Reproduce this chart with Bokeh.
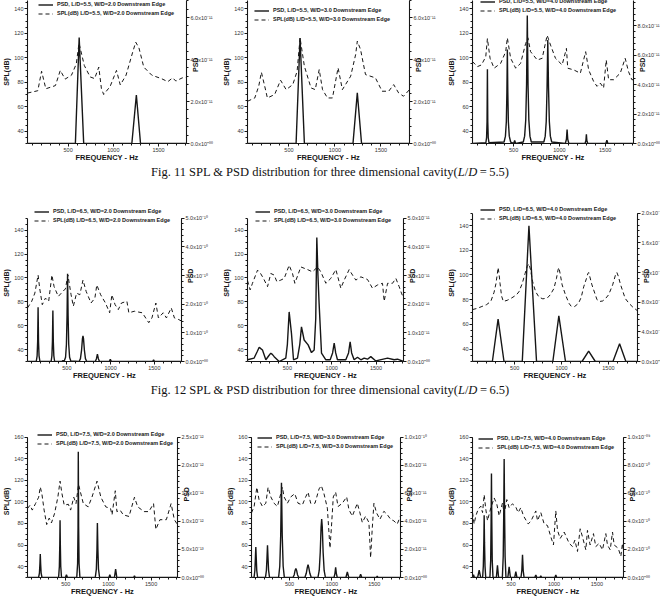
import numpy as np
from bokeh.plotting import figure
from bokeh.models import (Range1d, LinearAxis, FixedTicker, SingleIntervalTicker,
                          Legend, LegendItem, Div)
from bokeh.layouts import row, column
from bokeh.embed import file_html
from bokeh.resources import INLINE

# ------------------------------------------------------------------
# Data: SPL (dB) and PSD spectra at the downstream edge of the cavity
# PSD values are stored in the unit given in each name (e.g. _e11 -> x1e-11)
# ------------------------------------------------------------------
freq_range = (50, 1810)
x_tick_step = 500

# ---- Fig. 11, L/D = 5.5 ----
spl_55_20_f = [50, 164, 206, 253, 359, 413, 466, 537, 590, 620, 679, 743, 793, 839, 868, 893, 964, 1035,
               1077, 1141, 1212, 1248, 1284, 1337, 1426, 1532, 1603, 1657, 1692, 1763, 1810]
spl_55_20 = [71.2, 73.1, 89.0, 74.7, 77.3, 89.7, 82.6, 85.8, 95.0, 112.0, 93.7, 84.4, 83.0, 92.4, 75.0, 70.0,
             76.5, 89.7, 77.8, 85.8, 104.0, 112.8, 108.0, 92.4, 85.8, 83.0, 80.5, 83.6, 81.0, 83.6, 84.0]
psd_55_20_f = [50, 580, 622, 672, 1205, 1255, 1301, 1810]
psd_55_20_e11 = [0, 0, 5.05, 0, 0, 2.31, 0, 0]

spl_55_30_f = [50, 129, 172, 201, 237, 266, 345, 409, 470, 542, 589, 621, 668, 740, 786, 829, 865, 919, 973,
               1034, 1081, 1171, 1225, 1243, 1278, 1332, 1440, 1512, 1584, 1638, 1692, 1745, 1810]
spl_55_30 = [64.5, 67.2, 76.8, 88.2, 76.8, 67.2, 70.0, 81.7, 74.0, 78.1, 89.0, 116.3, 93.1, 75.4, 74.0, 90.4,
             74.0, 67.2, 67.2, 91.8, 74.0, 85.0, 102.7, 113.6, 106.8, 86.3, 83.6, 72.7, 72.7, 78.1, 71.3, 68.6, 74.0]
psd_55_30_f = [50, 578, 621, 668, 1196, 1243, 1289, 1810]
psd_55_30_e11 = [0, 0, 5.03, 0, 0, 2.41, 0, 0]

spl_55_40_f = [50, 104, 148, 195, 213, 242, 286, 358, 413, 431, 467, 522, 576, 631, 656, 685, 758, 812, 866,
               903, 957, 1030, 1077, 1091, 1157, 1229, 1287, 1320, 1374, 1411, 1447, 1483, 1512, 1538, 1592,
               1665, 1719, 1755, 1792, 1810]
spl_55_40 = [96.9, 92.8, 94.2, 100.9, 115.7, 99.6, 91.5, 95.5, 105.0, 116.3, 99.6, 91.5, 95.5, 111.7, 116.3,
             105.0, 98.2, 99.6, 118.4, 110.4, 99.6, 94.2, 107.7, 91.5, 90.1, 87.4, 105.0, 90.1, 80.7, 76.7,
             79.4, 75.3, 98.2, 82.1, 82.1, 87.4, 99.6, 88.8, 82.1, 82.1]
psd_55_40_f = [50, 196, 204, 209, 213, 217, 222, 230, 395, 410, 420, 426, 431, 436, 442, 452, 467, 500, 511,
               522, 605, 620, 632, 641, 649, 657, 666, 678, 693, 830, 845, 856, 865, 873, 881, 890, 901, 916,
               1065, 1077, 1084, 1091, 1103, 1280, 1290, 1295, 1300, 1310, 1508, 1519, 1530, 1810]
psd_55_40_e11 = [0, 0.05, 0.4, 1.5, 5.06, 1.5, 0.4, 0.05, 0.1, 0.5, 1.5, 3.5, 6.39, 3.5, 1.5, 0.5, 0.1, 0,
                 0.2, 0, 0.1, 0.5, 1.6, 4.0, 8.71, 4.0, 1.6, 0.5, 0.1, 0.1, 0.5, 1.5, 3.8, 7.05, 3.8, 1.5,
                 0.5, 0.1, 0, 0.3, 0.95, 0.3, 0, 0, 0.2, 0.62, 0.2, 0, 0, 0.22, 0, 0]

# ---- Fig. 12, L/D = 6.5 ----
spl_65_20_f = [50, 98, 134, 171, 189, 219, 255, 292, 329, 354, 402, 453, 483, 512, 548, 574, 611, 648, 684,
               721, 776, 820, 842, 886, 941, 989, 1014, 1051, 1088, 1124, 1186, 1208, 1271, 1362, 1436, 1472,
               1517, 1546, 1601, 1638, 1693, 1729, 1773, 1810]
spl_65_20 = [74.9, 80.4, 87.3, 102.4, 91.4, 77.6, 83.1, 80.4, 102.4, 92.7, 84.5, 88.6, 90.8, 102.4, 85.9,
             76.3, 87.3, 85.9, 98.2, 88.6, 79.0, 83.1, 94.1, 85.9, 79.0, 70.8, 85.9, 77.6, 73.5, 79.0, 80.4,
             70.8, 72.1, 70.8, 62.5, 66.5, 79.0, 66.5, 70.8, 66.5, 74.9, 66.5, 65.3, 63.9]
psd_65_20_f = [50, 150, 160, 166, 171, 176, 182, 192, 320, 329, 335, 340, 345, 351, 360, 445, 455, 465, 470,
               485, 495, 502, 508, 514, 521, 531, 545, 640, 655, 668, 678, 684, 690, 700, 712, 727, 825, 838,
               849, 860, 873, 985, 996, 1010, 1480, 1491, 1502, 1810]
psd_65_20_e10 = [0, 0, 0.2, 0.7, 1.89, 0.7, 0.2, 0, 0, 0.2, 0.7, 1.78, 0.7, 0.2, 0, 0, 0.04, 0, 0.02, 0.15,
                 0.6, 1.6, 3.06, 1.6, 0.6, 0.15, 0.02, 0, 0.1, 0.4, 0.8, 0.89, 0.8, 0.4, 0.1, 0, 0, 0.1, 0.26,
                 0.1, 0, 0, 0.08, 0, 0, 0.06, 0, 0]

spl_65_30_f = [50, 80, 106, 163, 193, 230, 276, 313, 351, 381, 426, 464, 520, 558, 584, 652, 727, 783, 840,
               877, 934, 990, 1047, 1103, 1141, 1197, 1235, 1272, 1329, 1404, 1460, 1517, 1573, 1592, 1630,
               1686, 1724, 1761, 1787, 1810]
spl_65_30 = [97.7, 90.0, 95.5, 106.5, 104.3, 99.6, 92.7, 103.7, 102.4, 96.9, 98.2, 99.6, 110.6, 103.7, 95.5,
             109.2, 107.0, 105.1, 109.2, 105.1, 95.5, 99.6, 107.0, 91.4, 98.2, 107.0, 102.4, 98.2, 100.9,
             98.7, 91.4, 94.1, 95.5, 80.4, 95.5, 95.5, 99.6, 92.7, 87.3, 83.1]
psd_65_30_f = [50, 125, 160, 182, 200, 219, 257, 290, 313, 330, 351, 407, 482, 500, 520, 546, 569, 614, 640,
               659, 689, 734, 772, 802, 820, 832, 845, 858, 885, 934, 983, 1010, 1028, 1045, 1065, 1159, 1190,
               1208, 1225, 1253, 1291, 1329, 1366, 1404, 1441, 1498, 1630, 1705, 1742, 1810]
psd_65_30_e11 = [0.06, 0.12, 0.35, 0.50, 0.45, 0.40, 0.06, 0.2, 0.29, 0.25, 0.17, 0, 0.12, 0.6, 1.73, 0.98,
                 0.06, 0.12, 0.6, 1.21, 0.75, 0.58, 0.31, 0.40, 1.5, 4.33, 3.0, 2.02, 0.29, 0.06, 0.06, 0.3,
                 0.64, 0.3, 0.06, 0.06, 0.3, 0.69, 0.3, 0.06, 0.15, 0.06, 0.12, 0.08, 0.17, 0.02, 0.12, 0.06,
                 0.08, 0]

spl_65_40_f = [50, 100, 150, 200, 245, 280, 300, 315, 323, 333, 344, 360, 379, 420, 470, 520, 546, 580, 610,
               634, 652, 670, 690, 723, 760, 800, 847, 880, 918, 945, 962, 971, 985, 1006, 1042, 1080, 1102,
               1140, 1180, 1210, 1236, 1265, 1280, 1289, 1300, 1324, 1378, 1410, 1440, 1470, 1502, 1545,
               1575, 1590, 1605, 1630, 1679, 1720, 1760, 1810]
spl_65_40 = [72, 73, 74.5, 76, 78.6, 86, 93, 101, 106, 101, 93, 83, 78.6, 79.5, 81.5, 84, 86.5, 93, 101, 107,
             109, 104, 95, 86.5, 82, 80.7, 81.3, 84, 89, 97, 104, 106, 101, 92, 83.9, 77, 74.7, 74.5, 77, 82,
             90.4, 97, 101, 102, 99, 92, 80, 78.6, 79, 81, 84, 92, 100, 102, 99, 92, 81, 77, 74, 71]
psd_65_40_f = [50, 262, 323, 386, 581, 652, 733, 907, 971, 1042, 1218, 1289, 1360, 1548, 1619, 1686, 1810]
psd_65_40_e10 = [0, 0, 0.571, 0, 0, 1.83, 0, 0, 0.615, 0, 0, 0.139, 0, 0, 0.238, 0, 0]

# ---- Fig. 13, L/D = 7.5 ----
spl_75_20_f = [50, 80, 106, 144, 181, 200, 219, 245, 275, 305, 331, 368, 406, 432, 455, 481, 529, 556, 593,
               619, 649, 672, 705, 762, 806, 866, 911, 968, 1024, 1042, 1080, 1099, 1136, 1174, 1241, 1305,
               1343, 1418, 1474, 1529, 1556, 1604, 1679, 1735, 1773, 1810]
spl_75_20 = [93.9, 96.9, 92.4, 98.4, 104.3, 113.8, 107.3, 92.4, 79.0, 85.0, 80.5, 89.4, 104.3, 119.2, 107.3,
             96.9, 97.8, 92.4, 104.3, 98.4, 116.2, 108.8, 98.4, 95.4, 104.3, 119.2, 104.3, 95.4, 93.9, 88.0,
             110.3, 91.0, 92.4, 88.0, 86.5, 104.3, 95.4, 91.0, 91.0, 98.4, 74.5, 83.5, 83.5, 98.4, 83.5, 79.0]
psd_75_20_f = [50, 180, 190, 196, 200, 204, 210, 220, 415, 424, 429, 432, 435, 440, 449, 495, 507, 519, 628,
               638, 643, 646, 650, 655, 665, 845, 858, 865, 870, 876, 883, 896, 1005, 1016, 1027, 1070, 1084,
               1098, 1295, 1305, 1315, 1810]
psd_75_20_e12 = [0, 0, 0.08, 0.25, 0.42, 0.25, 0.08, 0, 0, 0.2, 0.6, 1.02, 0.6, 0.2, 0, 0, 0.05, 0, 0, 0.25,
                 0.9, 2.24, 0.9, 0.25, 0, 0, 0.15, 0.5, 0.97, 0.5, 0.15, 0, 0, 0.05, 0, 0, 0.15, 0, 0, 0.03,
                 0, 0]

spl_75_30_f = [50, 81, 113, 140, 180, 219, 246, 278, 317, 356, 396, 415, 435, 474, 514, 561, 600, 651, 690,
               718, 749, 800, 848, 875, 906, 946, 977, 993, 1016, 1044, 1072, 1123, 1174, 1201, 1241, 1300,
               1331, 1359, 1398, 1437, 1457, 1476, 1496, 1527, 1567, 1614, 1653, 1693, 1732, 1771, 1810]
spl_75_30 = [89.8, 95.7, 113.5, 101.6, 95.7, 98.7, 113.5, 104.6, 98.7, 95.7, 107.6, 113.5, 104.6, 98.7,
             104.6, 107.6, 98.7, 97.2, 104.6, 109.0, 98.7, 98.7, 112.0, 115.0, 107.6, 94.2, 57.2, 75.0,
             104.6, 109.0, 95.7, 98.7, 104.6, 92.8, 86.8, 98.7, 89.8, 80.9, 86.8, 80.9, 48.3, 75.0, 98.7,
             89.8, 83.9, 91.3, 88.3, 83.9, 82.4, 79.4, 86.9]
psd_75_30_f = [50, 80, 90, 96, 101, 106, 112, 122, 215, 226, 233, 239, 245, 252, 263, 370, 384, 395, 404,
               413, 424, 438, 540, 555, 565, 574, 583, 593, 608, 680, 697, 709, 718, 727, 739, 756, 835, 850,
               862, 872, 879, 886, 896, 908, 923, 1025, 1036, 1044, 1052, 1063, 1165, 1182, 1199, 1325, 1339,
               1353, 1525, 1535, 1545, 1810]
psd_75_30_e10 = [0, 0, 0.05, 0.14, 0.217, 0.14, 0.05, 0, 0, 0.05, 0.14, 0.229, 0.14, 0.05, 0, 0, 0.08, 0.3,
                 0.675, 0.3, 0.08, 0, 0, 0.02, 0.05, 0.064, 0.05, 0.02, 0, 0, 0.03, 0.07, 0.092, 0.07, 0.03,
                 0, 0, 0.05, 0.18, 0.36, 0.416, 0.36, 0.18, 0.05, 0, 0, 0.03, 0.073, 0.03, 0, 0, 0.039, 0,
                 0, 0.023, 0, 0, 0.01, 0, 0]

spl_75_40_f = [50, 69, 89, 116, 147, 167, 186, 205, 225, 264, 303, 334, 361, 400, 419, 450, 477, 516, 555,
               582, 613, 644, 699, 730, 788, 808, 846, 885, 924, 963, 994, 1021, 1041, 1072, 1118, 1177, 1216,
               1243, 1274, 1305, 1332, 1371, 1390, 1421, 1460, 1487, 1526, 1565, 1604, 1623, 1655, 1682,
               1701, 1748, 1779, 1798, 1810]
spl_75_40 = [90.1, 79.6, 87.1, 93.1, 96.1, 90.1, 106.6, 93.1, 82.6, 94.6, 103.6, 97.6, 87.1, 99.1, 88.6,
             102.1, 94.6, 98.2, 95.2, 90.1, 94.6, 87.1, 79.6, 82.0, 91.6, 82.6, 90.1, 79.6, 78.1, 67.6, 60.1,
             91.6, 73.6, 66.1, 72.1, 61.6, 58.6, 64.6, 54.1, 75.1, 67.6, 55.6, 73.6, 60.1, 70.6, 58.6, 61.6,
             55.6, 70.6, 60.1, 55.6, 72.1, 60.1, 57.1, 49.6, 61.6, 54.1]
psd_75_40_f = [50, 62, 72, 110, 128, 145, 168, 176, 182, 186, 190, 196, 204, 253, 262, 267, 271, 275, 280,
               289, 328, 341, 354, 398, 408, 414, 419, 424, 430, 440, 462, 477, 492, 542, 555, 568, 615, 625,
               633, 641, 651, 775, 788, 801, 835, 846, 857, 1010, 1021, 1032, 1810]
psd_75_40_e9 = [0, 0.02, 0, 0, 0.053, 0, 0, 0.08, 0.25, 0.443, 0.25, 0.08, 0, 0, 0.12, 0.4, 0.741, 0.4,
                0.12, 0, 0, 0.087, 0, 0, 0.15, 0.45, 0.844, 0.45, 0.15, 0, 0, 0.076, 0, 0, 0.041, 0, 0, 0.05,
                0.161, 0.05, 0, 0, 0.018, 0, 0, 0.011, 0, 0, 0.018, 0, 0]

captions = [
    'Fig. 11 SPL &amp; PSD distribution for three dimensional cavity(<i>L</i>/<i>D</i>&#8201;=&#8201;5.5)',
    'Fig. 12 SPL &amp; PSD distribution for three dimensional cavity(<i>L</i>/<i>D</i>&#8201;=&#8201;6.5)',
]

Z = "0.0x10\u207a\u2070\u2070"
panels = [
    dict(ld="5.5", wd="2.0", sf=spl_55_20_f, s=spl_55_20, pf=psd_55_20_f, pv=psd_55_20_e11,
         spl_top=150, psd_top=7.0, ticks=[0, 2, 4, 6],
         labels=[Z, "2.0x10\u207b\u00b9\u00b9", "4.0x10\u207b\u00b9\u00b9", "6.0x10\u207b\u00b9\u00b9"],
         geom=(220, 164, 21, 34, -4, 18), leg=(11, -11)),
    dict(ld="5.5", wd="3.0", sf=spl_55_30_f, s=spl_55_30, pf=psd_55_30_f, pv=psd_55_30_e11,
         spl_top=150, psd_top=7.0, ticks=[0, 2, 4, 6],
         labels=[Z, "2.0x10\u207b\u00b9\u00b9", "4.0x10\u207b\u00b9\u00b9", "6.0x10\u207b\u00b9\u00b9"],
         geom=(220, 164, 26, 31, -4, 18), leg=(7, -17)),
    dict(ld="5.5", wd="4.0", sf=spl_55_40_f, s=spl_55_40, pf=psd_55_40_f, pv=psd_55_40_e11,
         spl_top=150, psd_top=10.0, ticks=[0, 2, 4, 6, 8],
         labels=[Z, "2.0x10\u207b\u00b9\u00b9", "4.0x10\u207b\u00b9\u00b9", "6.0x10\u207b\u00b9\u00b9",
                 "8.0x10\u207b\u00b9\u00b9"],
         geom=(232, 164, 32, 39, -4, 18), leg=(8, -8)),
    dict(ld="6.5", wd="2.0", sf=spl_65_20_f, s=spl_65_20, pf=psd_65_20_f, pv=psd_65_20_e10,
         spl_top=150, psd_top=5.0, ticks=[0, 1, 2, 3, 4, 5],
         labels=[Z, "1.0x10\u207b\u00b9\u2070", "2.0x10\u207b\u00b9\u2070", "3.0x10\u207b\u00b9\u2070",
                 "4.0x10\u207b\u00b9\u2070", "5.0x10\u207b\u00b9\u2070"],
         geom=(220, 178, 21, 39, 14, 18), leg=(7, 4)),
    dict(ld="6.5", wd="3.0", sf=spl_65_30_f, s=spl_65_30, pf=psd_65_30_f, pv=psd_65_30_e11,
         spl_top=150, psd_top=5.0, ticks=[0, 1, 2, 3, 4, 5],
         labels=[Z, "1.0x10\u207b\u00b9\u00b9", "2.0x10\u207b\u00b9\u00b9", "3.0x10\u207b\u00b9\u00b9",
                 "4.0x10\u207b\u00b9\u00b9", "5.0x10\u207b\u00b9\u00b9"],
         geom=(220, 178, 27, 37, 14, 18), leg=(8, 4)),
    dict(ld="6.5", wd="4.0", sf=spl_65_40_f, s=spl_65_40, pf=psd_65_40_f, pv=psd_65_40_e10,
         spl_top=150, psd_top=2.0, ticks=[0, 0.4, 0.8, 1.2, 1.6, 2.0],
         labels=[Z, "4.0x10\u207b\u00b9\u00b9", "8.0x10\u207b\u00b9\u00b9", "1.2x10\u207b\u00b9\u2070",
                 "1.6x10\u207b\u00b9\u2070", "2.0x10\u207b\u00b9\u2070"],
         geom=(232, 178, 32, 35, 9, 15), leg=(8, -2)),
    dict(ld="7.5", wd="2.0", sf=spl_75_20_f, s=spl_75_20, pf=psd_75_20_f, pv=psd_75_20_e12,
         spl_top=160, psd_top=2.5, ticks=[0, 0.5, 1.0, 1.5, 2.0, 2.5],
         labels=[Z, "5.0x10\u207b\u00b9\u00b3", "1.0x10\u207b\u00b9\u00b2", "1.5x10\u207b\u00b9\u00b2",
                 "2.0x10\u207b\u00b9\u00b2", "2.5x10\u207b\u00b9\u00b2"],
         geom=(220, 173, 20, 43, 12, 15), leg=(10, -3)),
    dict(ld="7.5", wd="3.0", sf=spl_75_30_f, s=spl_75_30, pf=psd_75_30_f, pv=psd_75_30_e10,
         spl_top=160, psd_top=1.0, ticks=[0, 0.2, 0.4, 0.6, 0.8, 1.0],
         labels=[Z, "2.0x10\u207b\u00b9\u00b9", "4.0x10\u207b\u00b9\u00b9", "6.0x10\u207b\u00b9\u00b9",
                 "8.0x10\u207b\u00b9\u00b9", "1.0x10\u207b\u00b9\u2070"],
         geom=(220, 173, 31, 40, 12, 15), leg=(6, -6)),
    dict(ld="7.5", wd="4.0", sf=spl_75_40_f, s=spl_75_40, pf=psd_75_40_f, pv=psd_75_40_e9,
         spl_top=160, psd_top=1.0, ticks=[0, 0.2, 0.4, 0.6, 0.8, 1.0],
         labels=[Z, "2.0x10\u207b\u00b9\u2070", "4.0x10\u207b\u00b9\u2070", "6.0x10\u207b\u00b9\u2070",
                 "8.0x10\u207b\u00b9\u2070", "1.0x10\u207b\u2070\u2079"],
         geom=(232, 173, 32, 49, 12, 15), leg=(6, -7)),
]

INK = "#161616"
SANS = "Liberation Sans"


def style_axis(ax, label_size="7px", label_standoff=0):
    ax.axis_line_color = INK
    ax.axis_line_width = 1.1
    ax.major_tick_line_color = INK
    ax.minor_tick_line_color = INK
    ax.major_tick_out = 3
    ax.major_tick_in = 0
    ax.minor_tick_out = 2
    ax.minor_tick_in = 0
    ax.major_label_text_font = SANS
    ax.major_label_text_font_size = "5.5px"
    ax.major_label_text_color = "#333333"
    ax.major_label_standoff = 1
    ax.axis_label_text_font = SANS
    ax.axis_label_text_font_style = "bold"
    ax.axis_label_text_font_size = label_size
    ax.axis_label_text_color = INK
    ax.axis_label_standoff = label_standoff


def make_panel(c):
    w, h, bl, br, top_pad, bb = c["geom"]
    frame_h = h - bb
    # the frame reaches the top of the canvas; the axes stop at spl_top,
    # leaving room for the legend above the axis ends
    px_per_db = (frame_h - top_pad) / (c["spl_top"] - 30)
    y_end = 30 + frame_h / px_per_db
    p = figure(width=w, height=h, output_backend="svg", toolbar_location=None, title=None,
               x_range=Range1d(*freq_range), y_range=Range1d(30, y_end),
               min_border_left=bl, min_border_right=br, min_border_top=0, min_border_bottom=bb,
               x_axis_label="FREQUENCY - Hz", y_axis_label="SPL(dB)")
    p.outline_line_color = None
    p.xgrid.visible = False
    p.ygrid.visible = False
    p.background_fill_color = "white"
    p.border_fill_color = "white"

    # PSD axis shares the bottom of the SPL axis (30 dB <-> 0)
    psd_end = c["psd_top"] * (y_end - 30) / (c["spl_top"] - 30)
    p.extra_y_ranges = {"psd": Range1d(0, psd_end)}

    r_spl = p.line(c["sf"], c["s"], line_color=INK, line_width=1.0, line_dash="4 3")
    r_psd = p.line(c["pf"], c["pv"], y_range_name="psd", line_color=INK, line_width=1.4)

    p.xaxis.ticker = SingleIntervalTicker(interval=x_tick_step, num_minor_ticks=5)
    p.yaxis.ticker = SingleIntervalTicker(interval=20, num_minor_ticks=4)
    p.yaxis.bounds = (30, c["spl_top"])
    style_axis(p.xaxis[0], "7.5px", -2)
    style_axis(p.yaxis[0], "7px", 1)

    ticks = c["ticks"]
    step = ticks[1] - ticks[0]
    minor = [float(v) for v in np.arange(0, c["psd_top"] + step / 10, step / 5)]
    rax = LinearAxis(y_range_name="psd", ticker=FixedTicker(ticks=ticks, minor_ticks=minor),
                     major_label_overrides=dict(zip(ticks, c["labels"])),
                     bounds=(0, c["psd_top"]), axis_label="PSD")
    style_axis(rax, "7px", -21)
    if "axis_label_orientation" in LinearAxis.properties():
        rax.axis_label_orientation = np.pi / 2
    p.add_layout(rax, "right")

    lx, row1_above = c["leg"]
    legend = Legend(items=[
        LegendItem(label=f"PSD, L/D={c['ld']}, W/D={c['wd']} Downstream Edge", renderers=[r_psd]),
        LegendItem(label=f"SPL(dB) L/D={c['ld']}, W/D={c['wd']} Downstream Edge", renderers=[r_spl]),
    ], location=(lx, frame_h - top_pad + row1_above + 4.5 - 18))
    legend.label_text_font = SANS
    legend.label_text_font_style = "bold"
    legend.label_text_font_size = "5.5px"
    legend.label_text_color = INK
    legend.label_height = 9
    legend.glyph_height = 9
    legend.glyph_width = 15
    legend.label_standoff = 4
    legend.padding = 0
    legend.spacing = 0
    legend.margin = 0
    legend.background_fill_alpha = 0
    legend.border_line_color = None
    p.add_layout(legend)
    return p


def caption(html, height):
    return Div(text=('<div style="width:660px;text-align:center;font-family:\'Liberation Serif\';'
                     'font-size:12.5px;line-height:17px;color:#111;white-space:nowrap;">' + html + '</div>'),
               width=660, height=height, margin=0)


figs = [make_panel(c) for c in panels]
layout = column(
    row(*figs[0:3], spacing=0),
    caption(captions[0], 40),
    row(*figs[3:6], spacing=0),
    caption(captions[1], 43),
    row(*figs[6:9], spacing=0),
    spacing=0,
)

open("out.html", "w").write(file_html(layout, INLINE))
